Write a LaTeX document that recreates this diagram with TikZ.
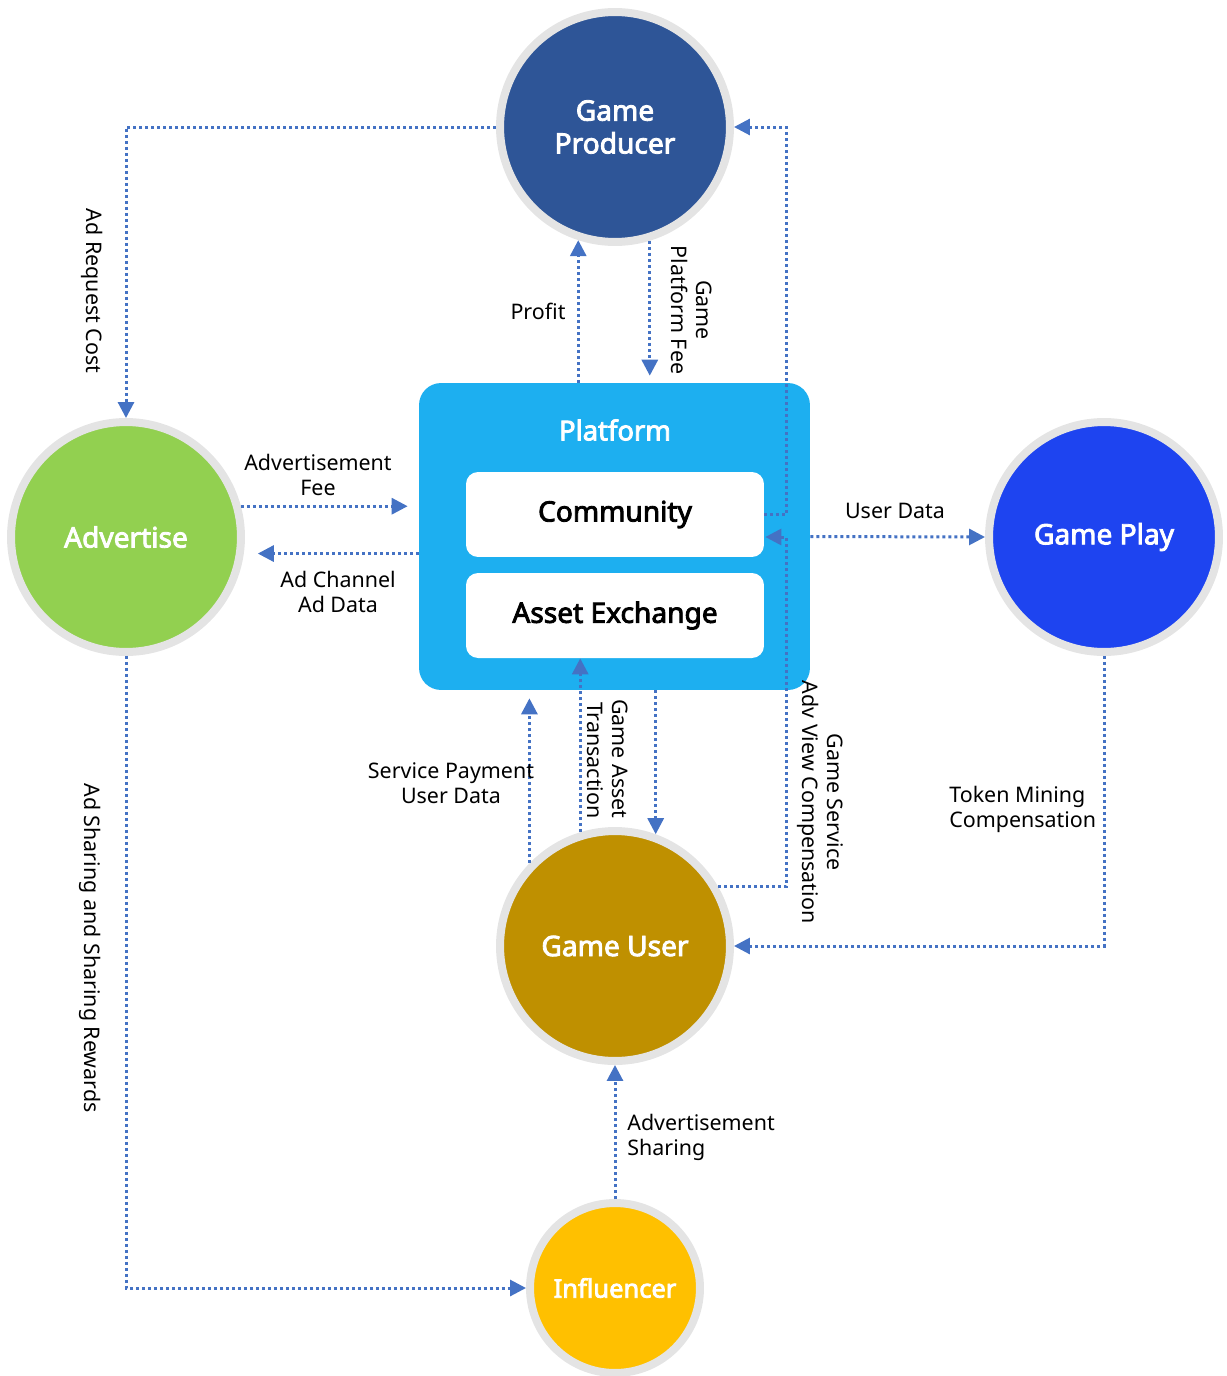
\documentclass[tikz,border=0pt]{standalone}
\usepackage{fontspec}
\setmainfont{Noto Sans}[AutoFakeBold=3]
\usetikzlibrary{arrows.meta,calc}

\definecolor{ringgray}{HTML}{E4E4E4}
\definecolor{producer}{HTML}{2E5597}
\definecolor{advgreen}{HTML}{92D050}
\definecolor{playblue}{HTML}{1E44F0}
\definecolor{usergold}{HTML}{BF9000}
\definecolor{inflyellow}{HTML}{FFC000}
\definecolor{platcyan}{HTML}{1DAFF0}
\definecolor{flowblue}{HTML}{4472C4}

\begin{document}
\begin{tikzpicture}[x=0.02cm, y=-0.02cm,
  actor/.style={circle, draw=ringgray, line width=0.16cm, minimum size=4.6cm,
    inner sep=0pt, text=white, align=center,
    font=\bfseries\fontsize{16}{18.7}\selectfont},
  smallactor/.style={actor, minimum size=3.4cm,
    font=\bfseries\fontsize{14.5}{17}\selectfont},
  platbox/.style={rectangle, rounded corners=0.44cm, fill=platcyan,
    minimum width=7.82cm, minimum height=6.14cm, inner sep=0pt},
  modbox/.style={rectangle, rounded corners=0.24cm, fill=white,
    minimum width=5.96cm, minimum height=1.7cm, inner sep=0pt,
    font=\bfseries\fontsize{16}{19}\selectfont},
  flow/.style={draw=flowblue, line width=0.06cm,
    dash pattern=on 0.06cm off 0.06cm,
    -{Triangle[length=0.32cm, width=0.32cm]}},
  lbl/.style={inner sep=0pt, align=center,
    font=\fontsize{12.2}{14.2}\selectfont}
]
\useasboundingbox (0,0) rectangle (1227,1376);

% platform block with its two modules
\node[platbox] (plat) at (614.5,536.5) {};
\node[text=white, font=\bfseries\fontsize{15.6}{18}\selectfont] (plattitle) at (615,430) {Platform};
\node[modbox] (comm) at (615,514.5) {Community};
\node[modbox] (asset) at (615,615.5) {Asset Exchange};

% participants
\node[actor, fill=producer] (gp) at (615,127) {Game\\Producer};
\node[actor, fill=advgreen] (adv) at (126,537) {Advertise};
\node[actor, fill=playblue] (gplay) at (1104,537) {Game Play};
\node[actor, fill=usergold] (gu) at (615,946) {Game User};
\node[smallactor, fill=inflyellow] (inf) at (615,1288) {Influencer};

% helper column right of the community module
\coordinate (rail) at ($(comm.east)+(22,0)$);

% flows
\draw[flow] (gp.west) -| (adv.north);
\draw[flow] (plat.north -| gp.252) -- (gp.252);
\draw[flow] (gp.287) -- ($(gp.287 |- plat.north)+(0,-7)$);
\draw[flow] (adv.15) -- ($(adv.15 -| plat.west)+(-11,0)$);
\draw[flow] (plat.west |- adv.-8) -- ($(adv.-8)+(14,0)$);
\draw[flow] (plat.east) -- (gplay.west);
\draw[flow] (comm.east) -- (rail) |- (gp.east);
\draw[flow] (gu.30) -| ($(rail)+(0,22.5)$) -- ($(comm.east)+(1,22.5)$);
\draw[flow] (gu.136) -- ($(gu.136 |- plat.south)+(0,8)$);
\draw[flow] (gu.107.6) -- (gu.107.6 |- asset.south);
\draw[flow] (plat.south -| gu.70.4) -- (gu.70.4);
\draw[flow] (gplay.south) |- (gu.east);
\draw[flow] (adv.south) |- (inf.west);
\draw[flow] (inf.north) -- (gu.south);

% flow labels
\node[lbl, rotate=-90] (l1) at (92,291) {Ad Request Cost};
\node[lbl] (l2) at (538,311) {Profit};
\node[lbl, rotate=-90] (l3) at (692,310) {Game\\Platform Fee};
\node[lbl] (l4) at (318,475) {Advertisement\\Fee};
\node[lbl] (l5) at (338,592) {Ad Channel\\Ad Data};
\node[lbl] (l6) at (895,511) {User Data};
\node[lbl] (l7) at (451,783) {Service Payment\\User Data};
\node[lbl, rotate=-90, align=right] (l8) at (608,759) {Game Asset\\Transaction};
\node[lbl, rotate=-90] (l9) at (820,802) {Game Service\\Adv View Compensation};
\node[lbl, align=left, anchor=west] (l10) at (949,809) {Token Mining\\Compensation};
\node[lbl, rotate=-90] (l11) at (90,948) {Ad Sharing and Sharing Rewards};
\node[lbl, align=left, anchor=west] (l12) at (627,1137) {Advertisement\\Sharing};
\end{tikzpicture}
\end{document}
